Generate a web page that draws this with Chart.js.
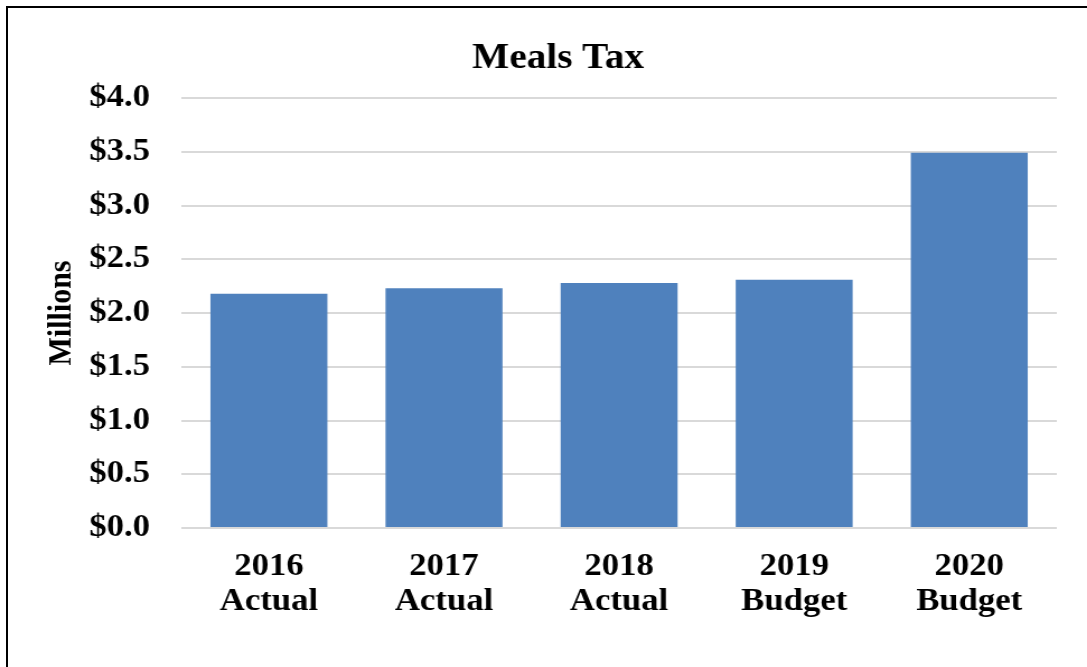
<!DOCTYPE html>
<html>
<head>
<meta charset="utf-8">
<title>Meals Tax</title>
<script src="https://cdn.jsdelivr.net/npm/chart.js@4/dist/chart.umd.min.js"></script>
<style>
  html, body { margin: 0; padding: 0; background: #fff; overflow: hidden; }
  #wrap { position: relative; width: 1087px; height: 667px; }
  #frame {
    position: absolute; left: 6px; top: 6px; right: 0; bottom: 0;
    border-top: 2px solid #000; border-left: 2px solid #000;
    pointer-events: none; z-index: 2;
  }
  /* the chart is laid out on a narrower canvas and widened horizontally */
  #c { position: absolute; left: 0; top: 0; transform-origin: 0 0; transform: scaleX(1.1195); }
</style>
</head>
<body>
<div id="wrap">
  <canvas id="c" width="971" height="667"></canvas>
  <div id="frame"></div>
</div>
<script>
// Fiscal years and their status
const years = ['2016', '2017', '2018', '2019', '2020'];
const status = ['Actual', 'Actual', 'Actual', 'Budget', 'Budget'];
// Meals tax revenue, millions of dollars
const mealsTax = [2.18, 2.23, 2.28, 2.31, 3.49];
// Value axis ticks
const yTicks = [0, 0.5, 1.0, 1.5, 2.0, 2.5, 3.0, 3.5, 4.0];

const SERIF = "'Liberation Serif', 'Times New Roman', serif";
const labels = years.map((y, i) => [y, status[i]]);

new Chart(document.getElementById('c'), {
  type: 'bar',
  data: {
    labels: labels,
    datasets: [{
      label: 'Meals Tax',
      data: mealsTax,
      backgroundColor: '#4F81BD',
      borderWidth: 0,
      barPercentage: 0.668,
      categoryPercentage: 1.0
    }]
  },
  options: {
    responsive: false,
    animation: false,
    devicePixelRatio: 1,
    layout: { padding: { left: 53, right: 27, top: 0, bottom: 0 } },
    plugins: {
      legend: { display: false },
      tooltip: { enabled: false },
      title: {
        display: true,
        text: 'Meals Tax',
        color: '#000',
        font: { family: SERIF, size: 35, weight: 'bold' },
        padding: { top: 38, bottom: 18 }
      }
    },
    scales: {
      x: {
        grid: { display: false },
        border: { display: false },
        ticks: {
          color: '#000',
          padding: 13,
          maxRotation: 0,
          autoSkip: false,
          font: { family: SERIF, size: 31, weight: 'bold', lineHeight: 1.13 }
        },
        afterFit: (scale) => { scale.height = 139; }
      },
      y: {
        min: 0,
        max: 4,
        afterBuildTicks: (scale) => { scale.ticks = yTicks.map(v => ({ value: v })); },
        grid: { color: '#d9d9d9', lineWidth: 2, drawTicks: false },
        border: { display: false },
        ticks: {
          color: '#000',
          padding: 28,
          font: { family: SERIF, size: 31, weight: 'bold' },
          callback: (v) => '$' + Number(v).toFixed(1)
        },
        title: {
          display: true,
          text: 'Millions',
          color: '#000',
          font: { family: SERIF, size: 30, weight: 'bold' },
          padding: { top: -15.6, bottom: 0 }
        },
        afterFit: (scale) => { scale.width = 109; }
      }
    }
  }
});
</script>
</body>
</html>
